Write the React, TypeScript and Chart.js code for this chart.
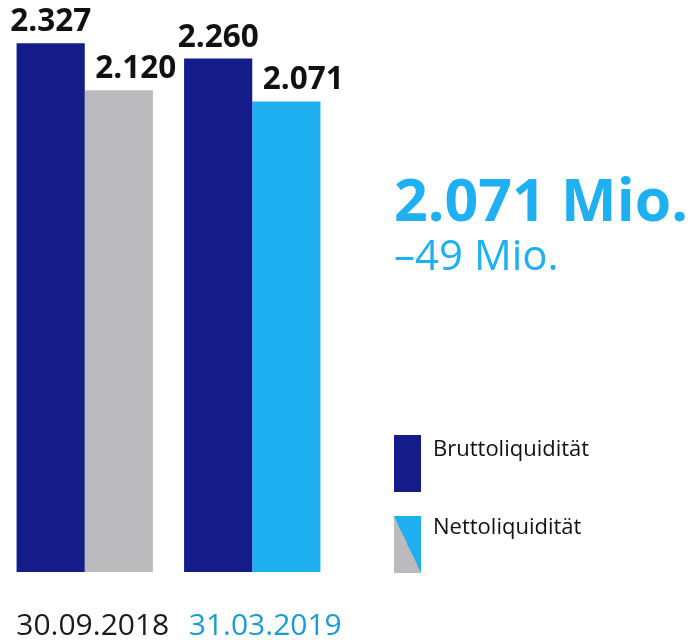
import React, { useEffect, useRef } from "react";
import { Chart, registerables } from "chart.js";

Chart.register(...registerables);

const categories = ["30.09.2018", "31.03.2019"];
const categoryColors = ["#1a1a1a", "#1a9ad6"];
const bruttoValues = [2327, 2260];
const nettoValues = [2120, 2071];
const seriesNames = ["Bruttoliquidität", "Nettoliquidität"];
const headline = "2.071 Mio.";
const subline = "\u201349 Mio.";

const NAVY = "#141c8a";
const GREY = "#bbbbbd";
const LIGHT = "#1eb0f0";

function fmt(v: number): string {
  const s = String(Math.round(v));
  return s.replace(/\B(?=(\d{3})+(?!\d))/g, ".");
}

const labelPlugin = {
  id: "barValueLabels",
  afterDatasetsDraw(chart: any) {
    const ctx = chart.ctx;
    ctx.save();
    ctx.font = "bold 31.5px 'Open Sans'";
    ctx.fillStyle = "#111111";
    ctx.textAlign = "center";
    ctx.textBaseline = "alphabetic";
    chart.data.datasets.forEach((ds: any, di: number) => {
      const meta = chart.getDatasetMeta(di);
      const shift = di === 1 ? 17 : 0;
      meta.data.forEach((el: any, i: number) => {
        ctx.fillText(fmt(ds.data[i]), el.x + shift, el.y - 12);
      });
    });
    // category labels
    const xs = chart.scales.x;
    ctx.font = "30px 'Open Sans'";
    chart.data.labels.forEach((lab: string, i: number) => {
      ctx.fillStyle = categoryColors[i];
      ctx.fillText(lab, xs.getPixelForValue(i) + (i === 0 ? 8 : 13), chart.chartArea.bottom + 63);
    });
    ctx.restore();
  },
};

export default function App() {
  const ref = useRef<HTMLCanvasElement | null>(null);
  useEffect(() => {
    if (!ref.current) return;
    const chart = new Chart(ref.current, {
      type: "bar",
      data: {
        labels: categories,
        datasets: [
          {
            label: seriesNames[0],
            data: bruttoValues,
            backgroundColor: NAVY,
            borderWidth: 0,
            categoryPercentage: 0.814,
            barPercentage: 1,
          },
          {
            label: seriesNames[1],
            data: nettoValues,
            backgroundColor: [GREY, LIGHT],
            borderWidth: 0,
            categoryPercentage: 0.814,
            barPercentage: 1,
          },
        ],
      },
      options: {
        responsive: false,
        animation: false,
        devicePixelRatio: 1,
        layout: { padding: { left: 1, right: 353, top: 4, bottom: 68 } },
        plugins: { legend: { display: false }, tooltip: { enabled: false } },
        scales: {
          y: { display: false, min: 0, max: 2500 },
          x: {
            display: true,
            grid: { display: false, drawTicks: false },
            border: { display: false },
            ticks: { display: false },
          },
        },
      },
      plugins: [labelPlugin],
    });
    return () => chart.destroy();
  }, []);

  const font = "'Open Sans', sans-serif";
  return (
    <div style={{ position: "fixed", left: 0, top: 0, width: 689, height: 640, background: "#fff", fontFamily: font }}>
      <canvas ref={ref} width={689} height={640} style={{ position: "absolute", left: 0, top: 0 }} />
      <div style={{ position: "absolute", left: 394, top: 162, fontSize: 59, fontWeight: 700, color: LIGHT, lineHeight: "72px", whiteSpace: "nowrap" }}>
        {headline}
      </div>
      <div style={{ position: "absolute", left: 394, top: 226, fontSize: 42, fontWeight: 400, color: LIGHT, lineHeight: "56px", whiteSpace: "nowrap" }}>
        {subline}
      </div>
      <div style={{ position: "absolute", left: 394, top: 435, width: 27, height: 57, background: NAVY }} />
      <div style={{ position: "absolute", left: 433, top: 432, fontSize: 22, color: "#111", lineHeight: "30px", whiteSpace: "nowrap" }}>
        {seriesNames[0]}
      </div>
      <div
        style={{
          position: "absolute",
          left: 394,
          top: 516,
          width: 27,
          height: 57,
          background: `linear-gradient(to top right, ${GREY} 50%, ${LIGHT} 50%)`,
        }}
      />
      <div style={{ position: "absolute", left: 433, top: 510, fontSize: 22, color: "#111", lineHeight: "30px", whiteSpace: "nowrap" }}>
        {seriesNames[1]}
      </div>
    </div>
  );
}
